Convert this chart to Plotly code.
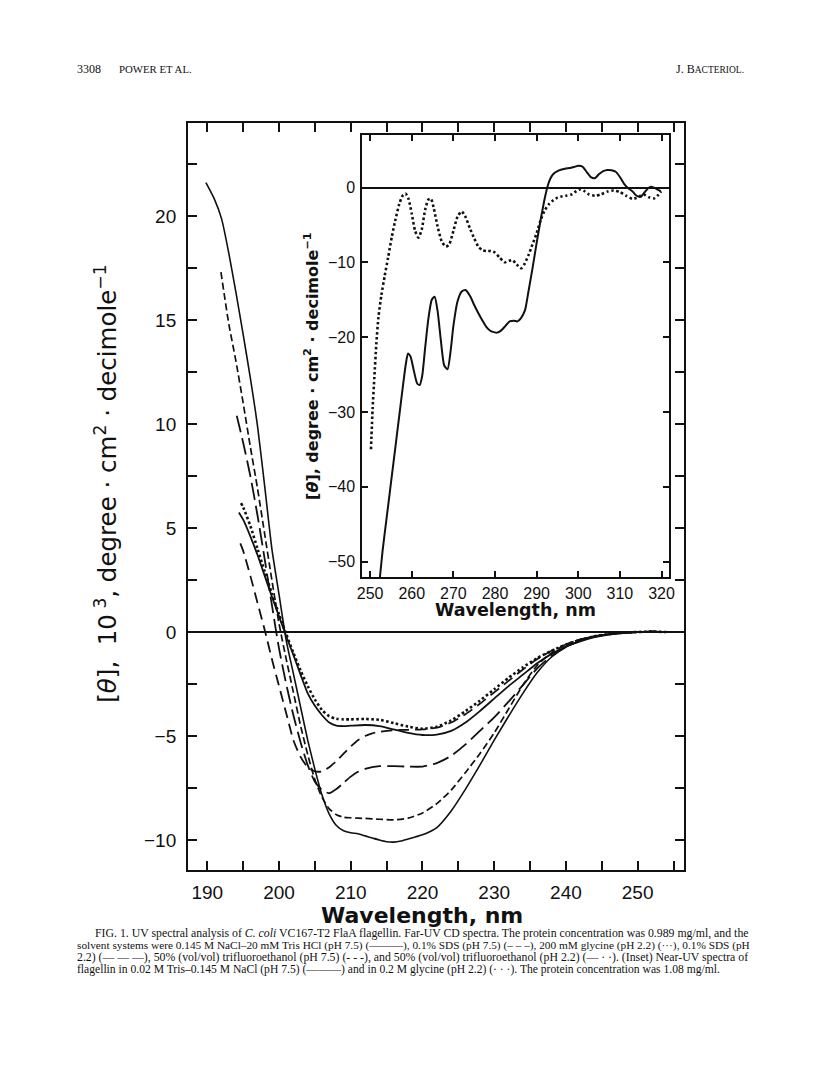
import plotly.graph_objects as go

W, H = 816, 1075
OFF = 8  # default page body margin in the written html

# ---------------- Main panel: far-UV CD spectra ----------------
# (x: wavelength nm, y: [theta] x 10^3 deg cm^2 dmol^-1)
tfe22_nm = [189.8, 191, 192, 193, 194, 195, 196, 197, 198, 199, 200, 201, 202, 203, 204, 205, 206, 207, 208, 209,
            210, 211, 212, 213, 214, 215, 216, 217, 218, 219, 220, 221, 222, 224, 226, 228, 230, 232, 234, 236,
            238, 240, 242, 244, 246, 248, 250, 252, 254]
tfe22_val = [21.6, 20.8, 19.85, 18.2, 16.3, 14.3, 12.2, 9.9, 7.0, 4.0, 1.8, -0.4, -2.0, -3.6, -5.2, -6.6, -7.85, -8.75, -9.3, -9.55,
             -9.65, -9.7, -9.8, -9.9, -10.0, -10.08, -10.1, -10.05, -9.95, -9.85, -9.75, -9.6, -9.4, -8.6, -7.55, -6.4, -5.2, -4.05, -2.95, -1.95,
             -1.2, -0.72, -0.42, -0.22, -0.1, -0.04, 0.0, 0.02, 0.0]

tfe75_nm = [191.9, 193, 194, 195, 196, 197, 198, 199, 200, 201, 202, 203, 204, 205, 206, 207, 208, 209, 210, 212,
            214, 216, 218, 220, 222, 224, 226, 228, 230, 232, 234, 236, 238, 240, 242, 244, 246, 248, 250, 252, 254]
tfe75_val = [17.3, 14.8, 13.0, 11.0, 8.9, 6.9, 4.7, 2.5, 0.4, -1.3, -2.9, -4.5, -5.9, -7.1, -7.95, -8.5, -8.78, -8.9, -8.93, -8.96,
             -9.0, -9.03, -8.95, -8.7, -8.25, -7.6, -6.75, -5.85, -4.85, -3.7, -2.55, -1.6, -1.0, -0.6, -0.35, -0.2, -0.1, -0.03, 0.0, 0.02, 0.0]

sds22_nm = [194.1, 195, 196, 197, 198, 199, 200, 201, 202, 203, 204, 205, 206, 207, 208, 209, 210, 211, 212, 214,
            216, 218, 220, 222, 224, 226, 228, 230, 232, 234, 236, 238, 240, 242, 244, 246, 248, 250, 252, 254]
sds22_val = [10.4, 9.1, 7.5, 5.6, 3.5, 1.3, -0.8, -2.5, -4.0, -5.3, -6.4, -7.2, -7.6, -7.75, -7.55, -7.25, -6.95, -6.72, -6.58, -6.45,
             -6.45, -6.47, -6.47, -6.3, -5.95, -5.4, -4.75, -4.1, -3.35, -2.55, -1.75, -1.15, -0.72, -0.42, -0.22, -0.1, -0.04, 0.0, 0.02, 0.0]

sds75_nm = [194.6, 195, 196, 197, 198, 199, 200, 201, 202, 203, 204, 205, 206, 207, 208, 209, 210, 211, 212, 213,
            214, 216, 218, 220, 222, 224, 226, 228, 230, 232, 234, 236, 238, 240, 242, 244, 246, 248, 250, 252, 254]
sds75_val = [4.26, 3.9, 2.7, 1.4, 0.1, -1.3, -2.6, -3.9, -5.2, -6.0, -6.5, -6.7, -6.7, -6.5, -6.2, -5.85, -5.5, -5.2, -5.0, -4.87,
             -4.8, -4.72, -4.7, -4.68, -4.6, -4.35, -3.95, -3.45, -2.9, -2.35, -1.8, -1.3, -0.9, -0.6, -0.36, -0.2, -0.1, -0.03, 0.0, 0.02, 0.0]

nacl_nm = [194.4, 195, 196, 197, 198, 199, 200, 201, 202, 203, 204, 205, 206, 207, 208, 209, 210, 212, 214, 216,
           218, 220, 222, 224, 226, 228, 230, 232, 234, 236, 238, 240, 242, 244, 246, 248, 250, 252, 254]
nacl_val = [5.75, 5.4, 4.6, 3.7, 2.7, 1.7, 0.75, -0.2, -1.1, -2.05, -2.95, -3.55, -4.0, -4.35, -4.5, -4.52, -4.5, -4.47, -4.52, -4.68,
            -4.85, -4.95, -4.93, -4.75, -4.35, -3.8, -3.2, -2.6, -2.05, -1.5, -1.05, -0.7, -0.45, -0.25, -0.12, -0.05, 0.0, 0.02, 0.0]

gly_nm = [194.7, 195, 196, 197, 198, 199, 200, 201, 202, 203, 204, 205, 206, 207, 208, 209, 210, 212, 214, 216,
          218, 220, 222, 224, 226, 228, 230, 232, 234, 236, 238, 240, 242, 244, 246, 248, 250, 252, 254]
gly_val = [6.2, 6.0, 5.1, 4.0, 2.9, 1.85, 0.85, -0.1, -1.0, -1.85, -2.6, -3.25, -3.75, -4.05, -4.17, -4.2, -4.2, -4.18, -4.22, -4.38,
           -4.55, -4.65, -4.55, -4.25, -3.8, -3.3, -2.75, -2.2, -1.7, -1.25, -0.9, -0.6, -0.38, -0.2, -0.1, -0.03, 0.0, 0.02, 0.0]

main_xticks = [190, 195, 200, 205, 210, 215, 220, 225, 230, 235, 240, 245, 250, 255]
main_xlabels = ["190", "", "200", "", "210", "", "220", "", "230", "", "240", "", "250", ""]
main_yticks = [-10, -7.5, -5, -2.5, 0, 2.5, 5, 7.5, 10, 12.5, 15, 17.5, 20, 22.5]
main_ylabels = ["\u221210", "", "\u22125", "", "0", "", "5", "", "10", "", "15", "", "20", ""]

# ---------------- Inset: near-UV CD spectra ----------------
ins_tris_nm = [252.0, 253, 254, 255, 256, 257, 258, 258.6, 259.1, 259.7, 260.5, 261.3, 261.9, 262.5, 263.2, 264, 264.8, 265.5,
               266.2, 267, 267.8, 268.6, 269.3, 270, 271, 272, 272.9, 274, 275, 276, 277, 278, 279, 280.5, 281.5, 282.5,
               283.5, 284.5, 285.4, 286.2, 287.2, 288, 289, 290, 291, 292, 292.7, 293.3, 294, 295, 296, 297, 298, 299,
               300, 301, 302, 303, 304, 305, 306, 307, 308, 309, 310, 311, 312, 313, 314, 315, 316, 317, 317.6, 318.5, 319.8]
ins_tris_val = [-54, -48.5, -44, -39.5, -35, -30.5, -26, -23.5, -22.2, -22.6, -24.5, -26.2, -26.4, -25.2, -21.5, -17.5, -15, -14.6,
                -16.5, -20.5, -23.8, -24.3, -22, -18.5, -15.2, -13.9, -13.7, -14.5, -15.7, -16.8, -17.8, -18.7, -19.2, -19.4, -19.1, -18.5,
                -17.9, -17.8, -17.9, -17.5, -16.4, -14, -10.8, -7.4, -4.2, -1.3, 0.3, 1.2, 1.8, 2.2, 2.4, 2.55, 2.6, 2.75,
                2.9, 2.8, 2.1, 1.4, 1.25, 1.8, 2.2, 2.35, 2.3, 2.1, 1.4, 0.5, -0.1, -0.5, -1.1, -1.25, -0.6, 0.0, 0.1, -0.1, -0.5]

ins_gly_nm = [250.2, 250.6, 251, 251.5, 252, 252.7, 253.5, 254.3, 255.2, 256, 257, 257.8, 258.5, 259.2, 260, 260.8, 261.6, 262.4,
              263.2, 264, 264.6, 265.3, 266.2, 267.2, 268.2, 269, 270, 271, 272, 272.8, 274, 275, 276, 277, 278, 279, 280,
              281, 282.3, 283.3, 284.2, 285.2, 286.3, 287, 288, 289, 290, 291, 292, 293, 294, 295, 296, 297, 298.5, 299.5,
              300.5, 301.5, 302.5, 304, 305.5, 307, 308.5, 310, 311.5, 313, 314, 315, 316, 317, 318.3, 319.2, 319.9]
ins_gly_val = [-35, -29.5, -25.5, -20.8, -17.3, -14.4, -11.8, -9.4, -6.6, -4.5, -2.2, -1.1, -0.8, -1.5, -3.5, -5.8, -6.7, -5.6,
               -3.0, -1.6, -1.5, -2.8, -5.2, -7.2, -7.9, -7.6, -5.8, -3.9, -3.2, -3.8, -5.5, -6.8, -7.9, -8.4, -8.5, -8.5, -8.7,
               -9.3, -10.0, -9.8, -9.7, -10.3, -10.8, -10.3, -9.1, -7.6, -6.1, -4.3, -3.0, -2.2, -1.7, -1.35, -1.2, -1.1, -0.9, -0.5,
               -0.25, -0.5, -0.9, -1.1, -0.9, -0.55, -0.4, -0.6, -1.1, -1.5, -1.4, -1.1, -1.0, -1.3, -1.45, -1.0, -0.5]

ins_xticks = [250, 260, 270, 280, 290, 300, 310, 320]
ins_xlabels = ["250", "260", "270", "280", "290", "300", "310", "320"]
ins_yticks = [-50, -40, -30, -20, -10, 0]
ins_ylabels = ["\u221250", "\u221240", "\u221230", "\u221220", "\u221210", "0"]

# ---------------- Text ----------------
header_num = "3308"
header_auth = "POWER ET AL."
header_right = "J. B<span style='font-size:9.5px'>ACTERIOL.</span>"
caption_lines = [
    "FIG. 1. UV spectral analysis of <i>C. coli</i> VC167-T2 FlaA flagellin. Far-UV CD spectra. The protein concentration was 0.989 mg/ml, and the",
    "solvent systems were 0.145 M NaCl\u201320 mM Tris HCl (pH 7.5) (\u2014\u2014\u2014), 0.1% SDS (pH 7.5) (\u2013 \u2013 \u2013), 200 mM glycine (pH 2.2) (\u00b7\u00b7\u00b7), 0.1% SDS (pH",
    "2.2) (\u2014 \u2014 \u2014), 50% (vol/vol) trifluoroethanol (pH 7.5) (- - -), and 50% (vol/vol) trifluoroethanol (pH 2.2) (\u2014 \u00b7 \u00b7). (Inset) Near-UV spectra of",
    "flagellin in 0.02 M Tris\u20130.145 M NaCl (pH 7.5) (\u2014\u2014\u2014) and in 0.2 M glycine (pH 2.2) (\u00b7 \u00b7 \u00b7). The protein concentration was 1.08 mg/ml.",
]
caption_sizes = [11.8, 11.3, 11.8, 11.6]

BLACK = "#111111"
fig = go.Figure()

def add_main(x, y, dash, width=1.8):
    fig.add_trace(go.Scatter(x=x, y=y, mode="lines", xaxis="x", yaxis="y",
                             line=dict(color=BLACK, width=width, dash=dash, shape="spline", smoothing=0.6),
                             showlegend=False, hoverinfo="skip"))

add_main(tfe22_nm, tfe22_val, "solid", 1.6)
add_main(tfe75_nm, tfe75_val, "7px,3.5px", 1.7)
add_main(sds22_nm, sds22_val, "17px,6px", 1.8)
add_main(sds75_nm, sds75_val, "11px,6px", 1.8)
add_main(nacl_nm, nacl_val, "solid", 1.8)
add_main(gly_nm, gly_val, "2.5px,2.5px", 2.6)

fig.add_trace(go.Scatter(x=ins_tris_nm, y=ins_tris_val, mode="lines", xaxis="x2", yaxis="y2",
                         line=dict(color=BLACK, width=2.0, shape="spline", smoothing=0.6),
                         showlegend=False, hoverinfo="skip"))
fig.add_trace(go.Scatter(x=ins_gly_nm, y=ins_gly_val, mode="lines", xaxis="x2", yaxis="y2",
                         line=dict(color=BLACK, width=2.6, dash="2.5px,2.5px", shape="spline", smoothing=0.6),
                         showlegend=False, hoverinfo="skip"))

def px_x(p):
    return (p - OFF) / W

def px_y(p):
    return 1 - (p - OFF) / H

# main frame pixels (page coordinates)
ML, MR, MT, MB = 185.5, 688, 123, 870
# inset frame pixels
IL, IR, IT, IB = 362, 673, 135, 577

tickfont_main = dict(family="Liberation Sans, Arial, sans-serif", size=19, color=BLACK)
tickfont_ins = dict(family="Liberation Sans, Arial, sans-serif", size=16, color=BLACK)

fig.update_layout(
    width=W, height=H,
    margin=dict(l=0, r=0, t=0, b=0),
    paper_bgcolor="white", plot_bgcolor="white",
    showlegend=False,
    xaxis=dict(domain=[px_x(ML), px_x(MR)], range=[187.32, 256.44], anchor="y",
               tickvals=main_xticks, ticktext=main_xlabels, ticks="inside", ticklen=9, tickwidth=1.8,
               tickcolor=BLACK, showline=True, linewidth=2.2, linecolor=BLACK, mirror="ticks",
               showgrid=False, zeroline=False, tickfont=tickfont_main, ticklabelstandoff=4),
    yaxis=dict(domain=[px_y(MB), px_y(MT)], range=[-11.44, 24.47], anchor="x",
               tickvals=main_yticks, ticktext=main_ylabels, ticks="inside", ticklen=9, tickwidth=1.8,
               tickcolor=BLACK, showline=True, linewidth=2.2, linecolor=BLACK, mirror="ticks",
               showgrid=False, zeroline=True, zerolinecolor=BLACK, zerolinewidth=2.2,
               tickfont=tickfont_main, ticklabelstandoff=6),
    xaxis2=dict(domain=[px_x(IL), px_x(IR)], range=[248.1, 321.8], anchor="y2",
                tickvals=ins_xticks, ticktext=ins_xlabels, ticks="inside", ticklen=6, tickwidth=1.6,
                tickcolor=BLACK, showline=True, linewidth=1.8, linecolor=BLACK, mirror="ticks",
                showgrid=False, zeroline=False, tickfont=tickfont_ins, ticklabelstandoff=1),
    yaxis2=dict(domain=[px_y(IB), px_y(IT)], range=[-52.07, 7.02], anchor="x2",
                tickvals=ins_yticks, ticktext=ins_ylabels, ticks="inside", ticklen=6, tickwidth=1.6,
                tickcolor=BLACK, showline=True, linewidth=1.8, linecolor=BLACK, mirror="ticks",
                showgrid=False, zeroline=True, zerolinecolor=BLACK, zerolinewidth=1.8,
                tickfont=tickfont_ins, ticklabelstandoff=2),
)

ann = []
title_font = "DejaVu Sans, sans-serif"
ann.append(dict(x=px_x(423), y=px_y(915), xref="paper", yref="paper", showarrow=False,
                text="<b>Wavelength, nm</b>", font=dict(family=title_font, size=22, color=BLACK),
                xanchor="center", yanchor="middle"))
ann.append(dict(x=px_x(102), y=px_y(484), xref="paper", yref="paper", showarrow=False, textangle=-90,
                text="[<i>\u03b8</i>],  10<sup> 3</sup>, degree \u00b7 cm<sup>2</sup> \u00b7 decimole<sup>\u22121</sup>",
                font=dict(family=title_font, size=24.5, color=BLACK), xanchor="center", yanchor="middle"))
ann.append(dict(x=px_x(517), y=px_y(610), xref="paper", yref="paper", showarrow=False,
                text="<b>Wavelength, nm</b>", font=dict(family=title_font, size=17.5, color=BLACK),
                xanchor="center", yanchor="middle"))
ann.append(dict(x=px_x(311), y=px_y(366), xref="paper", yref="paper", showarrow=False, textangle=-90,
                text="<b>[<i>\u03b8</i>], degree \u00b7 cm<sup>2</sup> \u00b7 decimole<sup>\u22121</sup></b>",
                font=dict(family=title_font, size=16, color=BLACK), xanchor="center", yanchor="middle"))

serif = "Liberation Serif, Times New Roman, serif"
ann.append(dict(x=px_x(71), y=px_y(69), xref="paper", yref="paper", showarrow=False, text=header_num,
                font=dict(family=serif, size=12, color=BLACK), xanchor="left", yanchor="middle"))
ann.append(dict(x=px_x(113), y=px_y(69), xref="paper", yref="paper", showarrow=False, text=header_auth,
                font=dict(family=serif, size=10.8, color=BLACK), xanchor="left", yanchor="middle"))
ann.append(dict(x=px_x(751), y=px_y(69), xref="paper", yref="paper", showarrow=False, text=header_right,
                font=dict(family=serif, size=12, color=BLACK), xanchor="right", yanchor="middle"))

cap_y = [933, 945, 957, 969]
cap_x = [89, 71, 71, 71]
for i, line in enumerate(caption_lines):
    ann.append(dict(x=px_x(cap_x[i]), y=px_y(cap_y[i]), xref="paper", yref="paper", showarrow=False,
                    text=line, font=dict(family=serif, size=caption_sizes[i], color=BLACK),
                    xanchor="left", yanchor="middle"))

fig.update_layout(annotations=ann)
fig.write_html("out.html")
